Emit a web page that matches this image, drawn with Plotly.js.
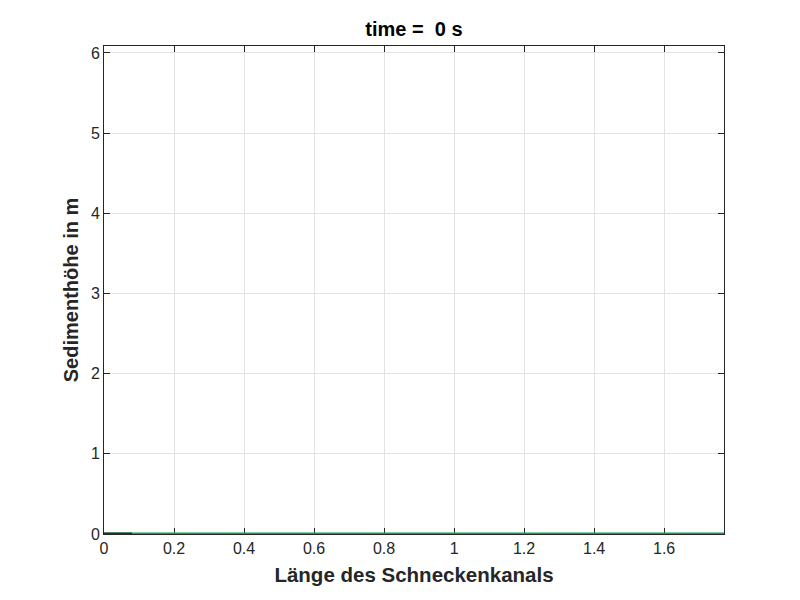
<!DOCTYPE html>
<html><head><meta charset="utf-8">
<script src="https://cdn.plot.ly/plotly-3.0.1.min.js"></script>
<style>html,body{margin:0;padding:0;background:#fff}</style>
</head><body><div id="plot" style="width:800px;height:600px"></div>
<script>
const channelX = [0, 0.2, 0.4, 0.6, 0.8, 1.0, 1.2, 1.4, 1.6, 1.771];
const sedimentHeight = [0, 0, 0, 0, 0, 0, 0, 0, 0, 0];
const inletX = [0, 0.08];
const inletHeight = [0, 0];
const xTicks = [0, 0.2, 0.4, 0.6, 0.8, 1, 1.2, 1.4, 1.6];
const yTicks = [0, 1, 2, 3, 4, 5, 6];

const traces = [
  {x: channelX, y: sedimentHeight, mode: 'lines', line: {color: '#10a050', width: 3}, hoverinfo: 'skip'},
  {x: inletX, y: inletHeight, mode: 'lines', line: {color: '#1a3a2a', width: 3}, hoverinfo: 'skip'}
];
const font = {family: 'Liberation Sans, Arial, sans-serif', color: '#262626'};
const layout = {
  width: 800, height: 600, showlegend: false,
  paper_bgcolor: '#fff', plot_bgcolor: '#fff',
  margin: {l: 104, r: 76, t: 46, b: 66},
  font: font,
  title: {text: '<b>time =  0 s</b>', x: 0.5175, xanchor: 'center', y: 0.952, yanchor: 'middle', font: {family: font.family, size: 20, color: '#000'}},
  xaxis: {range: [0, 1.771], tickvals: xTicks, ticktext: xTicks.map(String), ticks: 'inside', ticklen: 6, tickcolor: '#262626',
    showline: true, linecolor: '#262626', linewidth: 1, mirror: 'ticks', showgrid: true, gridcolor: '#e3e3e3', zeroline: false,
    layer: 'below traces',
    tickfont: {size: 16, color: '#262626'},
    title: {text: '<b>Länge des Schneckenkanals</b>', font: {size: 20.5, color: '#262626'}, standoff: 11}},
  yaxis: {range: [0, 6.087], tickvals: yTicks, ticks: 'inside', ticklen: 6, tickcolor: '#262626',
    showline: true, linecolor: '#262626', linewidth: 1, mirror: 'ticks', showgrid: true, gridcolor: '#e3e3e3', zeroline: false,
    layer: 'below traces',
    tickfont: {size: 16, color: '#262626'},
    title: {text: '<b>Sedimenthöhe in m</b>', font: {size: 20, color: '#262626'}, standoff: 6}}
};
Plotly.newPlot('plot', traces, layout, {staticPlot: true});
</script></body></html>
